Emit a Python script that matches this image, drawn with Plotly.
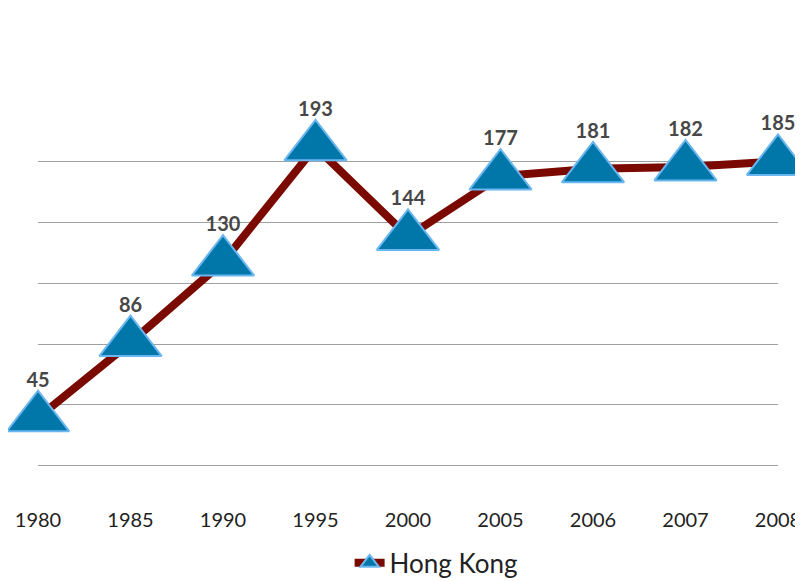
import plotly.graph_objects as go

years = ["1980", "1985", "1990", "1995", "2000", "2005", "2006", "2007", "2008"]
hong_kong = [45, 86, 130, 193, 144, 177, 181, 182, 185]
grid_vals = [18.74, 51.96, 85.18, 118.4, 151.62, 184.84]

fig = go.Figure()
fig.add_trace(go.Scatter(
    x=years, y=hong_kong, name="Hong Kong",
    mode="lines+markers",
    line=dict(color="#7a0a00", width=8),
    marker=dict(symbol="triangle-up", size=54, color="#0077a8",
                line=dict(color="#6ab6f0", width=2)),
    cliponaxis=False,
))
fig.add_trace(go.Scatter(
    x=years, y=hong_kong, name="labels", showlegend=False,
    mode="markers+text",
    marker=dict(symbol="triangle-up", size=40, opacity=0),
    text=[str(v) for v in hong_kong],
    textposition="top center",
    textfont=dict(family="Lato", size=20, color="#474747", weight="bold"),
    cliponaxis=False, hoverinfo="skip",
))

fig.update_layout(
    width=795, height=573,
    margin=dict(l=30, r=25, t=126, b=81, autoexpand=False),
    paper_bgcolor="white", plot_bgcolor="white",
    showlegend=True,
    legend=dict(orientation="h", x=0.538, xanchor="center", y=-0.172, yanchor="middle",
                font=dict(family="Lato", size=26, color="#222222")),
    xaxis=dict(type="category", range=[0, 8], showgrid=False, showline=False,
               zeroline=False, ticks="outside", ticklen=2, tickcolor="rgba(0,0,0,0)",
               automargin=False,
               tickfont=dict(family="Lato", size=20, color="#222222")),
    yaxis=dict(range=[0, 200], tickvals=grid_vals, showticklabels=False,
               showgrid=True, gridcolor="#a0a0a0", gridwidth=1, automargin=False,
               zeroline=False, showline=False),
)

fig.write_html("out.html")
